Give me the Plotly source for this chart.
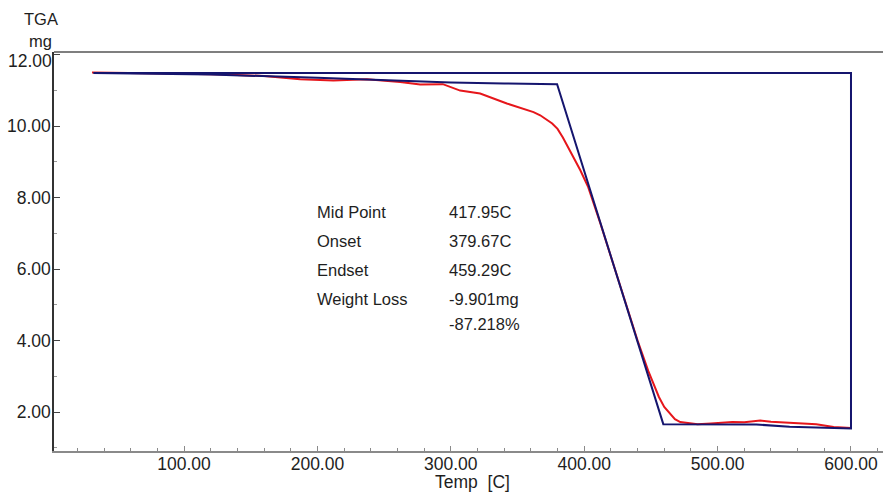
import plotly.graph_objects as go

# Measured TGA curve (red)
red_temp = [31, 60, 100, 130, 160, 187, 212, 237, 262, 277, 294, 307, 322, 342, 357,
            362, 367, 372, 376, 380, 384, 389, 397, 403, 407, 412, 420, 430, 440, 448,
            452, 456, 460, 464, 468, 472, 477, 485, 495, 505, 511, 520, 525, 532, 540,
            549, 560, 574, 587, 600]
red_mass = [11.50, 11.49, 11.46, 11.44, 11.40, 11.31, 11.27, 11.31, 11.23, 11.16, 11.17,
            10.99, 10.91, 10.63, 10.45, 10.39, 10.30, 10.18, 10.07, 9.92, 9.68, 9.33,
            8.77, 8.29, 7.85, 7.29, 6.35, 5.15, 4.00, 3.15, 2.78, 2.42, 2.14, 1.97, 1.80,
            1.72, 1.69, 1.66, 1.68, 1.70, 1.72, 1.71, 1.73, 1.76, 1.73, 1.71, 1.70, 1.66,
            1.58, 1.55]

# Onset / endset construction (navy)
blue_temp = [32, 120, 200, 260, 300, 340, 379.67, 459.29, 529, 554, 600, 600, 32]
blue_mass = [11.48, 11.44, 11.35, 11.27, 11.22, 11.19, 11.17, 1.66, 1.65, 1.59, 1.54, 11.48, 11.48]

x_ticks = [100, 200, 300, 400, 500, 600]
y_ticks = [2, 4, 6, 8, 10, 12]
y_ticktext = ["2.00", "4.00", "6.00", "8.00", "10.00", ""]

info_labels = ["Mid Point", "Onset", "Endset", "Weight Loss", ""]
info_values = ["417.95C", "379.67C", "459.29C", "-9.901mg", "-87.218%"]

FONT = "Liberation Sans, Arial, sans-serif"
TXT = "#1e1e1e"
TICK_SIZE = 17.5

fig = go.Figure()
fig.add_trace(go.Scatter(x=red_temp, y=red_mass, mode="lines",
                         line=dict(color="#e6161b", width=2), showlegend=False))
fig.add_trace(go.Scatter(x=blue_temp, y=blue_mass, mode="lines",
                         line=dict(color="#15156e", width=2), showlegend=False))

fig.update_layout(
    width=883, height=497, autosize=False,
    margin=dict(l=54, r=0, t=52, b=46),
    paper_bgcolor="white", plot_bgcolor="white",
    font=dict(family=FONT, color=TXT, size=16),
    xaxis=dict(range=[2.5, 624], tickvals=x_ticks, tickformat=".2f",
               ticks="inside", ticklen=5, tickcolor="#8a8a8a", tickwidth=1,
               showline=True, linecolor="#8a8a8a", linewidth=2,
               showgrid=False, zeroline=False, ticklabelstandoff=-4,
               tickfont=dict(size=TICK_SIZE, family=FONT, color=TXT),
               minor=dict(dtick=20, ticks="inside", ticklen=3, tickcolor="#8a8a8a")),
    yaxis=dict(range=[0.909, 12.07], tickvals=y_ticks, ticktext=y_ticktext,
               ticks="inside", ticklen=6, tickcolor="#444", tickwidth=1,
               showline=True, linecolor="#333", linewidth=1.5,
               showgrid=False, zeroline=False, ticklabelstandoff=-2,
               tickfont=dict(size=TICK_SIZE, family=FONT, color=TXT),
               minor=dict(dtick=1, ticks="inside", ticklen=3, tickcolor="#999")),
)

# top frame line
fig.add_shape(type="line", xref="paper", yref="paper", x0=0, x1=1, y0=1, y1=1,
              line=dict(color="#555", width=1.5))

ann = []
# 12.00 label sits a bit below its tick
ann.append(dict(text="12.00", xref="paper", yref="y", x=0, y=12, xanchor="right",
                yanchor="middle", xshift=0, yshift=-6, showarrow=False,
                font=dict(size=TICK_SIZE, family=FONT, color=TXT)))
# axis titles
ann.append(dict(text="TGA", xref="paper", yref="paper", x=-0.0157, y=1.0827,
                xanchor="center", yanchor="middle", showarrow=False,
                font=dict(size=16.5, family=FONT, color=TXT)))
ann.append(dict(text="mg", xref="paper", yref="paper", x=-0.0157, y=1.027,
                xanchor="center", yanchor="middle", showarrow=False,
                font=dict(size=16.5, family=FONT, color=TXT)))
ann.append(dict(text="Temp\u00a0\u00a0[C]", xref="paper", yref="paper", x=0.5054, y=-0.078,
                xanchor="center", yanchor="middle", showarrow=False,
                font=dict(size=17.5, family=FONT, color=TXT)))
# info block
rows_y = [0.599, 0.5263, 0.4536, 0.381, 0.3183]
for lab, val, yy in zip(info_labels, info_values, rows_y):
    if lab:
        ann.append(dict(text=lab, xref="paper", yref="paper", x=0.3148, y=yy,
                        xanchor="left", yanchor="middle", showarrow=False,
                        font=dict(size=16.5, family=FONT, color=TXT)))
    ann.append(dict(text=val, xref="paper", yref="paper", x=0.4741, y=yy,
                    xanchor="left", yanchor="middle", showarrow=False,
                    font=dict(size=16.5, family=FONT, color=TXT)))
fig.update_layout(annotations=ann)

fig.write_html("out.html")
